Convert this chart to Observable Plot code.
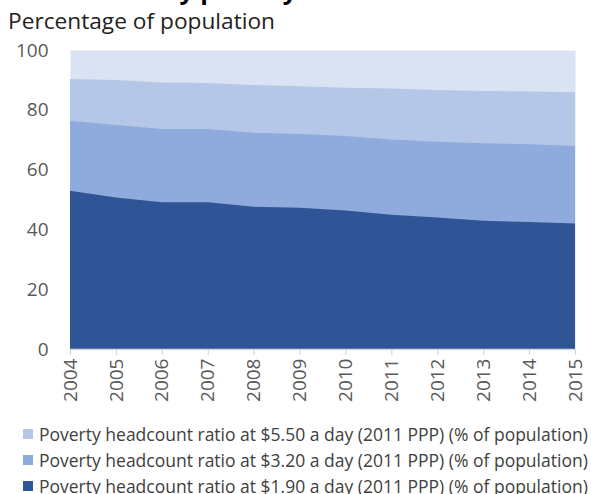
<!DOCTYPE html>
<html>
<head>
<meta charset="utf-8">
<script src="https://cdn.jsdelivr.net/npm/d3@7"></script>
<script src="https://cdn.jsdelivr.net/npm/@observablehq/plot@0.6"></script>
<style>
  html, body { margin: 0; padding: 0; background: #fff; }
  body { width: 591px; height: 494px; position: relative; overflow: hidden; font-family: "Open Sans", sans-serif; }
  #title { position: absolute; left: 8px; top: -26px; font-size: 25px; line-height: 30px; font-weight: 700; color: #000; white-space: nowrap; }
  #subtitle { position: absolute; left: 8px; top: 6px; font-size: 22.7px; line-height: 30px; color: #222; white-space: nowrap; }
  #chart { position: absolute; left: 0; top: 30px; }
  #legend { position: absolute; left: 23px; top: 421px; }
  .row { display: flex; align-items: center; height: 26px; font-size: 17.5px; color: #404040; white-space: nowrap; }
  .sw { width: 10px; height: 10px; margin-right: 6px; flex: none; }
</style>
</head>
<body>
<div id="title">Headcounts by poverty line</div>
<div id="subtitle">Percentage of population</div>
<div id="chart"></div>
<div id="legend"></div>
<script>
const years = [2004, 2005, 2006, 2007, 2008, 2009, 2010, 2011, 2012, 2013, 2014, 2015];
const pov550 = [90.3, 90.0, 89.1, 89.0, 88.3, 87.9, 87.4, 87.1, 86.6, 86.3, 86.1, 85.9];
const pov320 = [76.3, 74.9, 73.6, 73.6, 72.3, 71.9, 71.2, 70.1, 69.3, 68.8, 68.5, 67.9];
const pov190 = [52.9, 50.7, 49.1, 49.1, 47.6, 47.2, 46.3, 44.9, 44.0, 42.9, 42.5, 42.0];
const seriesNames = [
  "Poverty headcount ratio at $5.50 a day (2011 PPP) (% of population)",
  "Poverty headcount ratio at $3.20 a day (2011 PPP) (% of population)",
  "Poverty headcount ratio at $1.90 a day (2011 PPP) (% of population)"
];
const seriesColors = ["#b4c7e7", "#8faadc", "#2f5597"];
const yTicks = [0, 20, 40, 60, 80, 100];

const seriesValues = [pov550, pov320, pov190];
const rows = (vals) => years.map((y, i) => ({year: y, value: vals[i]}));

const plot = Plot.plot({
  width: 591,
  height: 375,
  marginTop: 20,
  marginLeft: 70,
  marginRight: 16,
  marginBottom: 56,
  style: {fontFamily: "Open Sans, sans-serif", fontSize: "19px", color: "#595959", background: "transparent"},
  x: {domain: [2004, 2015], ticks: years, tickFormat: d => String(d), label: null},
  y: {domain: [0, 100], ticks: yTicks, label: null},
  marks: [
    Plot.frame({fill: "#dae3f3", stroke: null}),
    ...seriesValues.map((vals, k) =>
      Plot.areaY(rows(vals), {x: "year", y1: 0, y2: "value", fill: seriesColors[k], curve: "linear"})
    ),
    Plot.ruleY([0], {stroke: "#d9d9d9", strokeWidth: 1.5}),
    Plot.axisY({ticks: yTicks, tickSize: 0, tickPadding: 22, fill: "#595959", fontSize: 19, label: null}),
    Plot.axisX({ticks: years, tickFormat: d => String(d), tickSize: 6, tickPadding: 3, tickRotate: -90, stroke: "#d0d0d0", fill: "#595959", fontSize: 19, label: null})
  ]
});
document.getElementById("chart").appendChild(plot);

const legend = document.getElementById("legend");
seriesNames.forEach((name, k) => {
  const row = document.createElement("div");
  row.className = "row";
  const sw = document.createElement("span");
  sw.className = "sw";
  sw.style.background = seriesColors[k];
  const t = document.createElement("span");
  t.textContent = name;
  row.appendChild(sw);
  row.appendChild(t);
  legend.appendChild(row);
});
</script>
</body>
</html>
